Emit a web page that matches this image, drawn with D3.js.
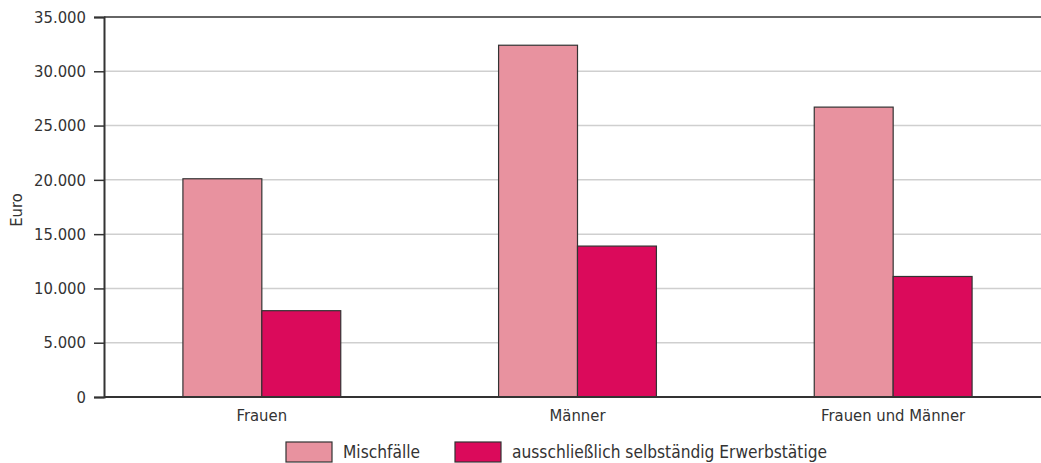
<!DOCTYPE html>
<html>
<head>
<meta charset="utf-8">
<script src="https://cdn.jsdelivr.net/npm/d3@7"></script>
<style>
  html, body { margin: 0; padding: 0; background: #fff; }
  svg { display: block; }
  text { font-family: "DejaVu Sans Condensed", "DejaVu Sans", sans-serif; fill: #333; }
</style>
</head>
<body>
<svg id="chart" width="1041" height="463"></svg>
<script>
const categories = ["Frauen", "Männer", "Frauen und Männer"];
const seriesNames = ["Mischfälle", "ausschließlich selbständig Erwerbstätige"];
const mischfaelle = [20100, 32400, 26700];
const ausschliesslich = [7950, 13900, 11100];
const yTicks = [0, 5000, 10000, 15000, 20000, 25000, 30000, 35000];
const yLabel = "Euro";
const colors = ["#E8929F", "#DB0A5B"];

const W = 1041, H = 463;
const m = { left: 104, top: 17, bottom: 397, right: 1041 };
const svg = d3.select("#chart");

const de = d3.formatLocale({ decimal: ",", thousands: ".", grouping: [3], currency: ["", " €"] });
const fmt = de.format(",d");

const y = d3.scaleLinear().domain([0, 35000]).range([m.bottom, m.top]);
const x0 = d3.scaleBand().domain(categories).range([m.left, 1051]).paddingInner(0.5).paddingOuter(0.25);
const x1 = d3.scaleBand().domain(seriesNames).range([0, x0.bandwidth()]);

svg.append("defs").append("clipPath").attr("id", "clip")
  .append("rect").attr("x", m.left).attr("y", 0).attr("width", m.right - m.left).attr("height", H);

// gridlines
svg.append("g").selectAll("line").data(yTicks.filter(d => d > 0 && d < 35000)).join("line")
  .attr("x1", m.left).attr("x2", m.right)
  .attr("y1", d => y(d)).attr("y2", d => y(d))
  .attr("stroke", "#cfcfcf").attr("stroke-width", 1.5);

// top frame line
svg.append("line").attr("x1", m.left).attr("x2", m.right)
  .attr("y1", y(35000)).attr("y2", y(35000))
  .attr("stroke", "#333").attr("stroke-width", 1.5);

// bars
const data = categories.map((c, i) => ({ cat: c, vals: [mischfaelle[i], ausschliesslich[i]] }));
const groups = svg.append("g").attr("clip-path", "url(#clip)")
  .selectAll("g").data(data).join("g")
  .attr("transform", d => `translate(${x0(d.cat)},0)`);
groups.selectAll("rect").data(d => d.vals.map((v, j) => ({ s: seriesNames[j], v, j }))).join("rect")
  .attr("x", d => x1(d.s)).attr("width", x1.bandwidth())
  .attr("y", d => y(d.v)).attr("height", d => y(0) - y(d.v))
  .attr("fill", d => colors[d.j]).attr("stroke", "#333").attr("stroke-width", 1.2);

// y axis
const yAxis = d3.axisLeft(y).tickValues(yTicks).tickFormat(fmt).tickSize(10).tickPadding(8);
const gy = svg.append("g").attr("transform", `translate(${m.left},0)`).call(yAxis);
gy.select(".domain").attr("stroke", "#333").attr("stroke-width", 2);
gy.selectAll(".tick line").attr("stroke", "#333").attr("stroke-width", 1.5);
gy.selectAll(".tick text").attr("font-size", 16.5).attr("fill", "#333")
  .style("font-family", "DejaVu Sans Condensed, DejaVu Sans, sans-serif");

// x axis baseline
svg.append("line").attr("x1", m.left).attr("x2", m.right)
  .attr("y1", y(0)).attr("y2", y(0)).attr("stroke", "#333").attr("stroke-width", 2);

// category labels
svg.append("g").selectAll("text").data(categories).join("text")
  .attr("x", d => x0(d) + x0.bandwidth() / 2).attr("y", 421)
  .attr("text-anchor", "middle").attr("font-size", 16.5).text(d => d);

// y label
svg.append("text").attr("transform", `translate(22,210) rotate(-90)`)
  .attr("text-anchor", "middle").attr("font-size", 16.5).text(yLabel);

// legend
const leg = svg.append("g");
const swW = 46, swH = 20, legY = 442;
const legX = [286, 455];
seriesNames.forEach((s, i) => {
  leg.append("rect").attr("x", legX[i]).attr("y", legY).attr("width", swW).attr("height", swH)
    .attr("fill", colors[i]).attr("stroke", "#333").attr("stroke-width", 1.2);
  leg.append("text").attr("x", legX[i] + swW + 11).attr("y", legY + 16)
    .attr("font-size", 17.2).text(s);
});
</script>
</body>
</html>
